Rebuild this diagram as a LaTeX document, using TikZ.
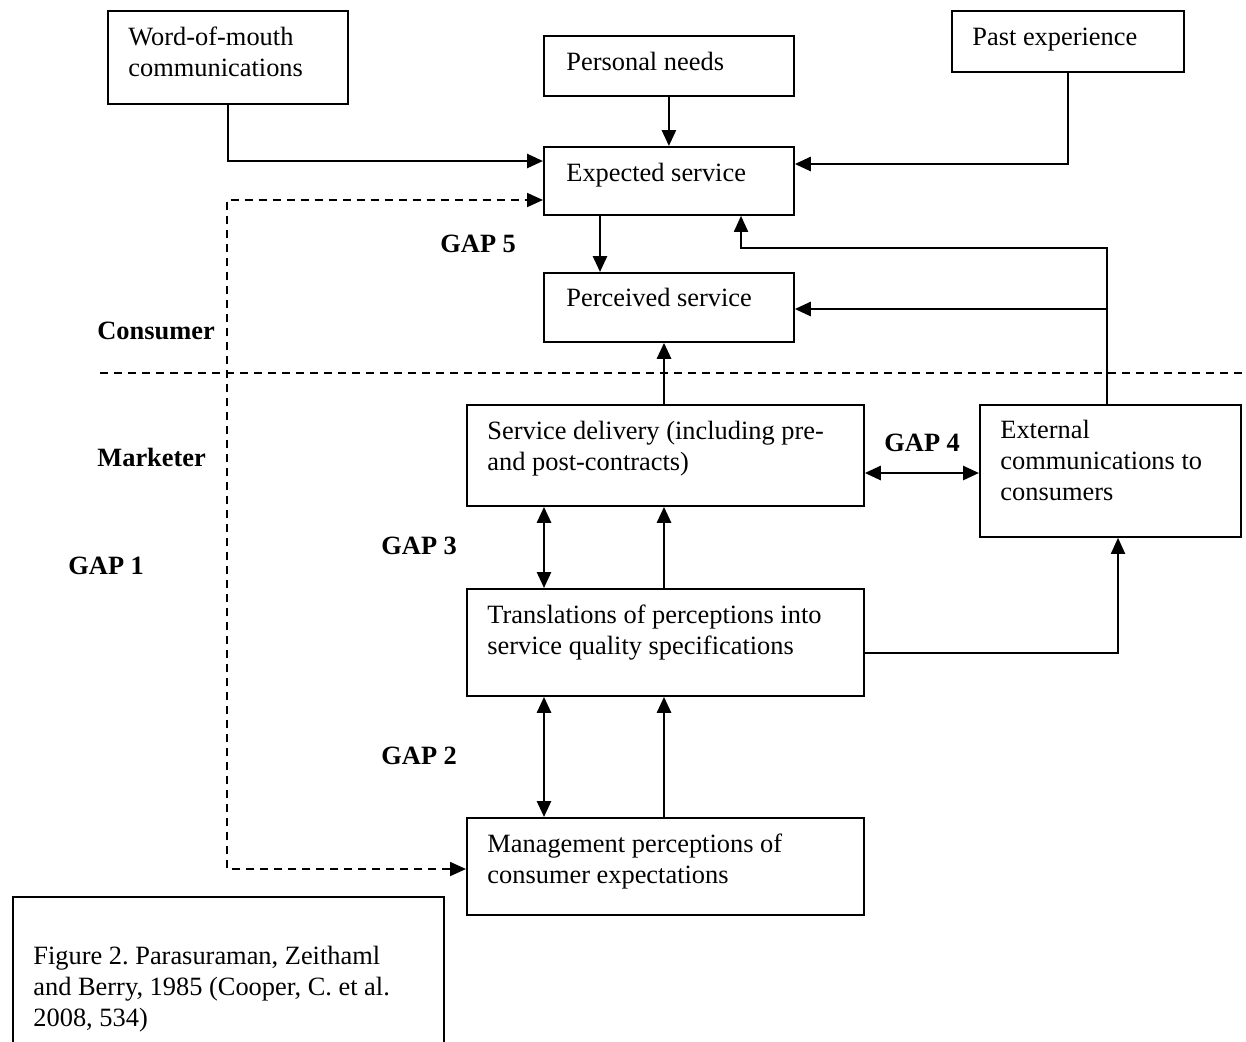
\documentclass[tikz,border=0pt]{standalone}
\usepackage{fontspec}
\setmainfont{Liberation Serif}
\usetikzlibrary{arrows.meta}
\frenchspacing
\begin{document}
\begin{tikzpicture}[x=0.5pt,y=-0.5pt,
  font=\fontsize{13.2}{15.5}\selectfont,
  box/.style={draw,line width=0.9pt,inner sep=0pt,anchor=north west},
  txt/.style={anchor=base west,inner sep=0pt,align=left},
  lbl/.style={anchor=base west,inner sep=0pt,font=\fontsize{13.2}{15.5}\selectfont\bfseries},
  arr/.style={line width=1.35pt,-{Triangle[length=8pt,width=7pt]}},
  thin/.style={line width=0.9pt,-{Triangle[length=8pt,width=7pt]}},
  darr/.style={line width=1.35pt,{Triangle[length=8pt,width=7pt]}-{Triangle[length=8pt,width=7pt]}},
  dline/.style={line width=0.9pt,dash pattern=on 4pt off 3pt},
  plain/.style={line width=0.9pt}]
\useasboundingbox (0,0) rectangle (1246,1041);
\clip (0,0) rectangle (1246,1041);
% boxes
\node[box,minimum width=120pt,minimum height=46.5pt] (wom) at (107,10) {};
\node[box,minimum width=125pt,minimum height=30pt] (pn) at (543,35) {};
\node[box,minimum width=116pt,minimum height=30.5pt] (past) at (951,10) {};
\node[box,minimum width=125pt,minimum height=34pt] (exp) at (543,146) {};
\node[box,minimum width=125pt,minimum height=34.5pt] (perc) at (543,272) {};
\node[box,minimum width=198.5pt,minimum height=50.5pt] (sd) at (466,404) {};
\node[box,minimum width=130.5pt,minimum height=66pt] (ext) at (979,404) {};
\node[box,minimum width=198.5pt,minimum height=53.5pt] (tr) at (466,588) {};
\node[box,minimum width=198.5pt,minimum height=48.5pt] (mg) at (466,817) {};
\node[box,minimum width=215.5pt,minimum height=85pt] (fig) at (12,896) {};
% box texts (multi-line nodes: base = last line)
\node[txt] (womt) at (128,76) {Word-of-mouth\\communications};
\node[txt] (pnt) at (566,70) {Personal needs};
\node[txt] (pastt) at (972,45) {Past experience};
\node[txt] (expt) at (566,181) {Expected service};
\node[txt] (perct) at (566,306) {Perceived service};
\node[txt] (sdt) at (487,470) {Service delivery (including pre-\\and post-contracts)};
\node[txt] (extt) at (1000,500) {External\\communications to\\consumers};
\node[txt] (trt) at (487,654) {Translations of perceptions into\\service quality specifications};
\node[txt] (mgt) at (487,883) {Management perceptions of\\consumer expectations};
\node[txt] (figt) at (33,1026) {Figure 2. Parasuraman, Zeithaml\\and Berry, 1985 (Cooper, C. et al.\\2008, 534)};
% labels
\node[lbl] (g5) at (440,252) {GAP 5};
\node[lbl] (cons) at (97,339) {Consumer};
\node[lbl] (mark) at (97,466) {Marketer};
\node[lbl] (g1) at (68,574) {GAP 1};
\node[lbl] (g3) at (381,554) {GAP 3};
\node[lbl] (g4) at (884,451) {GAP 4};
\node[lbl] (g2) at (381,764) {GAP 2};
% dividing line
\coordinate (dl) at (100,373);
\coordinate (dr) at (1250,373);
\draw[dline] (dl) -- (dr);
% connectors
\draw[arr] (wom.south) |- (exp.west |- 0,161);
\draw[arr] (pn.south) -- (exp.north);
\draw[arr] (past.south) |- (exp.east |- 0,164);
\draw[arr] (exp.south -| 600,0) -- (perc.north -| 600,0);
\coordinate (bend) at (741,248);
\coordinate (br) at (1107,309);
\draw[thin] (ext.north -| 1107,0) |- (bend) -- (exp.south -| bend);
\draw[arr] (br) -- (perc.east |- br);
\draw[arr] (sd.north -| 664,0) -- (perc.south -| 664,0);
\draw[darr] (sd.east |- 0,473) -- (ext.west |- 0,473);
\draw[darr] (sd.south -| 544,0) -- (tr.north -| 544,0);
\draw[arr] (tr.north -| 664,0) -- (sd.south -| 664,0);
\draw[thin] (tr.east |- 0,653) -| (ext.south -| 1118,0);
\draw[darr] (tr.south -| 544,0) -- (mg.north -| 544,0);
\draw[arr] (mg.north -| 664,0) -- (tr.south -| 664,0);
\coordinate (gc) at (227,200);
\draw[dline,{Triangle[length=8pt,width=7pt]}-{Triangle[length=8pt,width=7pt]}] (mg.west |- 0,869) -| (gc) -- (exp.west |- gc);
\end{tikzpicture}
\end{document}
